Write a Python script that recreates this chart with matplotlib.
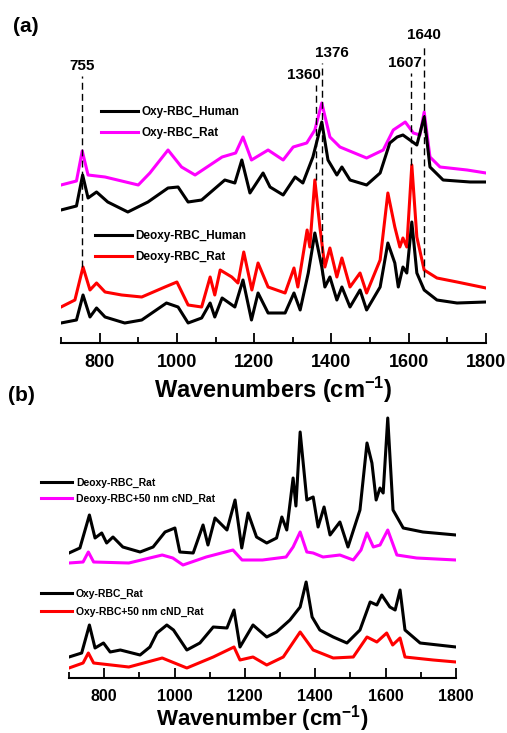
import matplotlib
matplotlib.use('Agg')
import matplotlib.pyplot as plt
from matplotlib.ticker import MultipleLocator

plt.rcParams['font.family'] = ['Liberation Sans', 'DejaVu Sans']
plt.rcParams['font.weight'] = 'bold'
plt.rcParams['mathtext.fontset'] = 'custom'
plt.rcParams['mathtext.rm'] = 'Liberation Sans:bold'
plt.rcParams['mathtext.bf'] = 'Liberation Sans:bold'
plt.rcParams['mathtext.default'] = 'bf'

# ---- panel (a) data, intensity in arbitrary units ----
oxy_human_wn = [700, 740, 756, 770, 792, 821, 873, 925, 977, 1003, 1029, 1064, 1124, 1150, 1168,
                1189, 1223, 1241, 1275, 1306, 1326, 1352, 1375, 1391, 1414, 1427, 1448, 1491,
                1526, 1551, 1570, 1585, 1603, 1621, 1640, 1655, 1689, 1759, 1800]
oxy_human_i = [131, 135, 166, 143, 149, 139, 129, 139, 153, 154, 139, 141, 161, 158, 181,
               148, 168, 154, 146, 164, 158, 184, 219, 181, 166, 174, 161, 156,
               168, 198, 204, 206, 201, 196, 224, 174, 161, 159, 159]

oxy_rat_wn = [700, 740, 755, 770, 814, 900, 930, 977, 1012, 1047, 1117, 1152, 1171, 1193, 1236,
              1275, 1301, 1336, 1357, 1375, 1396, 1422, 1491, 1534, 1560, 1591, 1612, 1629,
              1640, 1655, 1681, 1751, 1800]
oxy_rat_i = [156, 160, 190, 166, 164, 156, 168, 191, 174, 166, 184, 188, 204, 181, 191,
             181, 194, 198, 211, 238, 204, 194, 183, 191, 211, 219, 208, 206,
             229, 184, 174, 171, 168]

deoxy_rat_wn = [700, 736, 757, 775, 792, 814, 857, 909, 969, 1000, 1029, 1064, 1086, 1098, 1112,
                1142, 1158, 1173, 1194, 1210, 1236, 1280, 1303, 1313, 1337, 1344, 1357, 1370,
                1383, 1396, 1414, 1427, 1448, 1474, 1491, 1526, 1546, 1564, 1577, 1585, 1595,
                1608, 1621, 1640, 1673, 1725, 1800]
deoxy_rat_i = [34, 41, 74, 51, 58, 49, 46, 44, 54, 59, 36, 34, 64, 46, 71,
               64, 58, 89, 51, 78, 54, 48, 73, 54, 111, 94, 161, 114,
               74, 93, 64, 83, 54, 68, 48, 81, 148, 114, 94, 103, 94,
               176, 104, 71, 63, 59, 53]

deoxy_human_wn = [700, 740, 757, 775, 792, 814, 865, 909, 973, 1003, 1029, 1064, 1086, 1098, 1117,
                  1150, 1171, 1193, 1210, 1236, 1280, 1303, 1319, 1340, 1357, 1375, 1383, 1396,
                  1414, 1427, 1448, 1474, 1491, 1526, 1546, 1564, 1573, 1585, 1595, 1608, 1621,
                  1640, 1673, 1725, 1800]
deoxy_human_i = [18, 21, 46, 24, 33, 24, 18, 21, 38, 34, 18, 23, 38, 24, 43,
                 34, 61, 21, 48, 28, 28, 48, 31, 68, 108, 74, 54, 64,
                 41, 54, 34, 51, 31, 54, 98, 78, 54, 74, 68, 119, 68,
                 51, 41, 38, 39]

peaks = [755, 1360, 1376, 1607, 1640]
peak_top = [265, 256, 278, 268, 296]
peak_bottom = [74, 161, 66, 176, 64]

# ---- panel (b) data ----
b_deoxy_wn = [700, 731, 758, 774, 793, 807, 825, 853, 902, 939, 973, 1001, 1015, 1053, 1081,
              1095, 1115, 1149, 1172, 1191, 1209, 1233, 1262, 1290, 1305, 1319, 1337, 1345,
              1357, 1376, 1394, 1408, 1425, 1442, 1470, 1493, 1527, 1547, 1561, 1573, 1584,
              1593, 1606, 1621, 1650, 1706, 1800]
b_deoxy_i = [123, 128, 161, 138, 143, 133, 139, 129, 124, 129, 144, 148, 124, 123, 151,
             131, 158, 146, 176, 128, 163, 139, 133, 138, 159, 146, 198, 170,
             244, 176, 179, 149, 169, 141, 154, 129, 166, 233, 213, 176, 188,
             183, 258, 166, 148, 144, 141]

b_deoxy_cnd_wn = [700, 740, 755, 770, 870, 965, 995, 1024, 1090, 1166, 1192, 1250, 1317, 1337,
                  1357, 1376, 1394, 1422, 1470, 1508, 1530, 1547, 1565, 1584, 1606, 1632, 1688, 1800]
b_deoxy_cnd_i = [113, 114, 124, 114, 113, 121, 118, 111, 119, 126, 116, 116, 119, 129,
                 144, 124, 123, 119, 121, 116, 126, 143, 129, 131, 146, 121, 118, 116]

b_oxy_wn = [700, 736, 758, 774, 798, 817, 846, 902, 930, 950, 978, 997, 1035, 1072, 1110,
            1149, 1169, 1186, 1223, 1262, 1290, 1328, 1357, 1374, 1391, 1413, 1451, 1490,
            1527, 1556, 1575, 1589, 1612, 1627, 1641, 1655, 1698, 1800]
b_oxy_i = [19, 23, 51, 28, 33, 24, 26, 21, 29, 43, 51, 46, 26, 33, 49,
           48, 66, 29, 51, 39, 44, 56, 69, 94, 59, 46, 39, 33,
           46, 74, 71, 81, 69, 66, 86, 46, 33, 29]

b_oxy_cnd_wn = [700, 740, 755, 770, 870, 965, 1035, 1110, 1169, 1186, 1223, 1262, 1309, 1357,
                1394, 1451, 1508, 1547, 1575, 1603, 1620, 1641, 1655, 1735, 1800]
b_oxy_cnd_i = [8, 13, 23, 13, 9, 18, 8, 19, 29, 16, 19, 11, 19, 44,
               26, 18, 19, 39, 34, 43, 31, 38, 19, 16, 14]

W, H = 507, 733
fig = plt.figure(figsize=(W / 100, H / 100), dpi=100)

def px_axes(x0, x1, ytop, ybot):
    return fig.add_axes([x0 / W, 1 - ybot / H, (x1 - x0) / W, (ybot - ytop) / H])

def style_axis(ax, tick_size):
    for s in ['left', 'right', 'top']:
        ax.spines[s].set_visible(False)
    ax.spines['bottom'].set_linewidth(1.5)
    ax.set_yticks([])
    ax.set_xlim(700, 1800)
    ax.xaxis.set_major_locator(MultipleLocator(200))
    ax.xaxis.set_minor_locator(MultipleLocator(100))
    ax.tick_params(axis='x', which='major', direction='in', length=7, width=1.3,
                   labelsize=tick_size, pad=8)
    ax.tick_params(axis='x', which='minor', direction='in', length=4, width=1.3)
    for lab in ax.get_xticklabels():
        lab.set_fontweight('bold')

lw = 2.2

# ---------------- panel (a) ----------------
ax1 = px_axes(61, 486, 30, 343)
ax1.set_ylim(-2, 311)
style_axis(ax1, 13)
h1, = ax1.plot(oxy_human_wn, oxy_human_i, color='black', lw=lw, label='Oxy-RBC_Human')
h2, = ax1.plot(oxy_rat_wn, oxy_rat_i, color='#ff00ff', lw=lw, label='Oxy-RBC_Rat', zorder=1.9)
h3, = ax1.plot(deoxy_human_wn, deoxy_human_i, color='black', lw=lw, label='Deoxy-RBC_Human')
h4, = ax1.plot(deoxy_rat_wn, deoxy_rat_i, color='red', lw=lw, label='Deoxy-RBC_Rat', zorder=1.9)

label_dx = [0, -9, 7, -5, 0]
for p, top, bot, dx in zip(peaks, peak_top, peak_bottom, label_dx):
    ax1.plot([p, p], [bot, top], color='black', lw=1, ls=(0, (5, 3)), zorder=3)
    ax1.annotate(str(p), xy=(p, top), xytext=(dx, 2), textcoords='offset points',
                 ha='center', va='bottom', fontsize=11, fontweight='bold')

fig.text((61 + 486) / 2 / W, 1 - 398 / H, 'Wavenumbers (cm$^{-1}$)', fontsize=17,
         fontweight='bold', ha='center', va='baseline')

leg_kw = dict(frameon=False, borderpad=0, borderaxespad=0, handletextpad=0.35,
              loc='center left', bbox_transform=fig.transFigure)
leg1 = ax1.legend(handles=[h1, h2], fontsize=8.5, handlelength=3.1, labelspacing=0.7,
                  bbox_to_anchor=(101 / W, 1 - 122.5 / H), **leg_kw)
ax1.add_artist(leg1)
ax1.legend(handles=[h3, h4], fontsize=8.5, handlelength=3.1, labelspacing=0.7,
           bbox_to_anchor=(95 / W, 1 - 246.5 / H), **leg_kw)

fig.text(13 / W, 1 - 27 / H, '(a)', fontsize=15, fontweight='bold', va='center', ha='left')

# ---------------- panel (b) ----------------
ax2 = px_axes(69, 456, 416, 678)
ax2.set_ylim(-2, 260)
style_axis(ax2, 11.5)
g1, = ax2.plot(b_deoxy_wn, b_deoxy_i, color='black', lw=lw, label='Deoxy-RBC_Rat')
g2, = ax2.plot(b_deoxy_cnd_wn, b_deoxy_cnd_i, color='#ff00ff', lw=lw,
               label='Deoxy-RBC+50 nm cND_Rat')
g3, = ax2.plot(b_oxy_wn, b_oxy_i, color='black', lw=lw, label='Oxy-RBC_Rat')
g4, = ax2.plot(b_oxy_cnd_wn, b_oxy_cnd_i, color='red', lw=lw, label='Oxy-RBC+50 nm cND_Rat')

fig.text((69 + 456) / 2 / W, 1 - 726 / H, 'Wavenumber (cm$^{-1}$)', fontsize=16,
         fontweight='bold', ha='center', va='baseline')

leg3 = ax2.legend(handles=[g1, g2], fontsize=7.5, handlelength=3.0, labelspacing=0.6,
                  bbox_to_anchor=(41 / W, 1 - 491 / H), **leg_kw)
ax2.add_artist(leg3)
ax2.legend(handles=[g3, g4], fontsize=7.5, handlelength=3.0, labelspacing=0.75,
           bbox_to_anchor=(41 / W, 1 - 602.5 / H), **leg_kw)

fig.text(8 / W, 1 - 395 / H, '(b)', fontsize=15, fontweight='bold', va='center', ha='left')

fig.savefig('out.png', dpi=100)
